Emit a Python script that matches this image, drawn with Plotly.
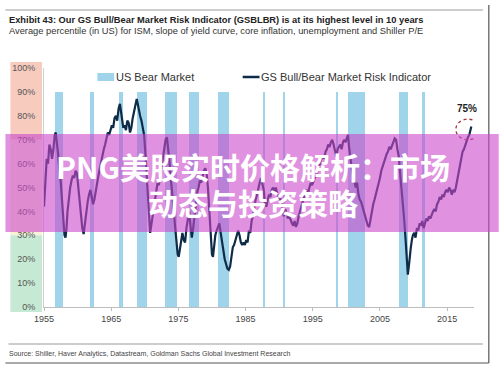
import plotly.graph_objects as go

# ---------------- data ----------------
bear_start = [1956.6, 1961.9, 1966.1, 1968.9, 1972.95, 1976.6, 1980.9, 1987.6, 1990.5, 1998.45, 2000.25, 2007.8, 2011.3]
bear_end   = [1957.8, 1962.45, 1966.75, 1970.4, 1974.75, 1978.1, 1982.6, 1987.95, 1990.85, 1998.75, 2002.75, 2009.15, 2011.7]
bear_height = 90

gs_years = [
    1955.0, 1955.2, 1955.4, 1955.6, 1955.8, 1956.0, 1956.2, 1956.4, 1956.6, 1956.75, 1956.9,
    1957.1, 1957.3, 1957.5, 1957.7, 1957.9, 1958.05, 1958.2, 1958.35, 1958.5, 1958.7, 1958.9,
    1959.1, 1959.3, 1959.5, 1959.7, 1959.9, 1960.1, 1960.3, 1960.5, 1960.7, 1960.9,
    1961.1, 1961.3, 1961.5, 1961.7, 1961.9, 1962.1, 1962.3, 1962.5, 1962.7, 1962.9,
    1963.1, 1963.3, 1963.5, 1963.7, 1963.9, 1964.1, 1964.3, 1964.5, 1964.7, 1964.9,
    1965.1, 1965.3, 1965.5, 1965.7, 1965.9, 1966.1, 1966.3, 1966.45, 1966.6, 1966.8,
    1967.0, 1967.2, 1967.4, 1967.6, 1967.8, 1968.0, 1968.2, 1968.4, 1968.6, 1968.8, 1968.95,
    1969.1, 1969.3, 1969.5, 1969.7, 1969.9, 1970.1, 1970.3, 1970.5, 1970.65, 1970.8, 1970.95,
    1971.1, 1971.3, 1971.5, 1971.7, 1971.9, 1972.1, 1972.3, 1972.5, 1972.7, 1972.9,
    1973.1, 1973.3, 1973.5, 1973.7, 1973.9, 1974.1, 1974.3, 1974.5, 1974.7, 1974.9, 1975.05,
    1975.2, 1975.4, 1975.6, 1975.8, 1976.0, 1976.2, 1976.4, 1976.6, 1976.8, 1977.0,
    1977.2, 1977.4, 1977.6, 1977.8, 1978.0, 1978.2, 1978.4, 1978.6, 1978.8, 1979.0,
    1979.2, 1979.4, 1979.6, 1979.8, 1980.0, 1980.15, 1980.3, 1980.5, 1980.7, 1980.9,
    1981.1, 1981.3, 1981.5, 1981.7, 1981.9, 1982.1, 1982.3, 1982.5, 1982.7, 1982.9,
    1983.1, 1983.3, 1983.5, 1983.7, 1983.9, 1984.1, 1984.3, 1984.5, 1984.7, 1984.9,
    1985.1, 1985.3, 1985.5, 1985.7, 1985.9, 1986.1, 1986.3, 1986.5, 1986.7, 1986.9,
    1987.1, 1987.3, 1987.5, 1987.7, 1987.9, 1988.1, 1988.3, 1988.5, 1988.7, 1988.9,
    1989.1, 1989.3, 1989.5, 1989.7, 1989.9, 1990.1, 1990.3, 1990.5, 1990.7, 1990.9,
    1991.1, 1991.3, 1991.5, 1991.7, 1991.9, 1992.1, 1992.3, 1992.5, 1992.7, 1992.9,
    1993.1, 1993.3, 1993.5, 1993.7, 1993.9, 1994.1, 1994.3, 1994.5, 1994.7, 1994.9,
    1995.1, 1995.3, 1995.5, 1995.7, 1995.9, 1996.1, 1996.3, 1996.5, 1996.7, 1996.9,
    1997.1, 1997.3, 1997.5, 1997.7, 1997.9, 1998.1, 1998.3, 1998.5, 1998.7, 1998.9,
    1999.1, 1999.3, 1999.5, 1999.7, 1999.9, 2000.1, 2000.25, 2000.4, 2000.6, 2000.8,
    2001.0, 2001.2, 2001.4, 2001.6, 2001.8, 2002.0, 2002.2, 2002.4, 2002.6, 2002.8,
    2003.0, 2003.2, 2003.4, 2003.6, 2003.8, 2004.0, 2004.2, 2004.4, 2004.6, 2004.8,
    2005.0, 2005.2, 2005.4, 2005.6, 2005.8, 2006.0, 2006.2, 2006.4, 2006.6, 2006.8,
    2007.0, 2007.2, 2007.4, 2007.6, 2007.8, 2008.0, 2008.2, 2008.4, 2008.6, 2008.8,
    2009.0, 2009.15, 2009.3, 2009.45, 2009.6, 2009.75, 2009.9, 2010.1, 2010.3, 2010.5,
    2010.7, 2010.9, 2011.1, 2011.3, 2011.5, 2011.7, 2011.9, 2012.1, 2012.3, 2012.5,
    2012.7, 2012.9, 2013.1, 2013.3, 2013.5, 2013.7, 2013.9, 2014.1, 2014.3, 2014.5,
    2014.7, 2014.9, 2015.1, 2015.3, 2015.5, 2015.7, 2015.9, 2016.1, 2016.3, 2016.5,
    2016.7, 2016.9, 2017.1, 2017.3, 2017.5, 2017.7, 2017.9, 2018.1, 2018.3, 2018.45, 2018.6,
]
gs_values = [
    42, 50, 62, 60, 68, 66, 62, 66, 72, 73, 70,
    64, 57, 52, 44, 36, 30, 29, 33, 40, 46, 50,
    53, 55, 54, 57, 56, 50, 44, 38, 33, 30.5,
    35, 41, 44, 47, 49, 46, 43, 45, 49, 53,
    55, 58, 61, 63, 66, 68, 71, 73, 72, 74,
    76, 75, 79, 80, 78, 83, 85, 82, 79, 75,
    76, 74, 78, 77, 73, 75, 79, 82, 84, 87, 85,
    82, 80, 78, 75, 72, 64, 56, 45, 38, 31, 34,
    38, 42, 45, 49, 52, 51, 55, 59, 63, 67,
    70, 71, 66, 60, 53, 48, 41, 34, 28, 22, 21,
    24, 29, 31, 28, 27, 33, 36, 40, 34, 29,
    33, 38, 44, 48, 50, 53, 52, 55, 57, 58,
    56, 50, 41, 30, 22, 21, 25, 30, 32, 34,
    35, 31, 27, 24, 20, 18, 16, 15.5, 17, 21,
    25, 26, 28, 31, 32, 30, 27, 26, 27, 26,
    28, 27, 32, 31, 36, 38, 42, 45, 47, 50,
    52, 54, 51, 49, 43, 42, 45, 47, 46, 49,
    50, 48, 50, 47, 45, 46, 44, 40, 38, 41,
    39, 37, 38, 36, 35, 34, 36, 33.5, 35, 38,
    40, 43, 45, 47, 48, 49, 47, 50, 52, 51,
    53, 54, 55, 57, 59, 60, 62, 63, 62, 65,
    66, 68, 67, 69, 70, 68, 65, 63, 66, 67,
    68, 66, 69, 70, 69, 71, 72, 67, 62, 58,
    55, 53, 50, 52, 47, 45, 44, 42, 40, 38,
    35, 34, 33.5, 37, 40, 43, 45, 47, 49, 51,
    54, 57, 59, 60, 62, 64, 65, 67, 66, 68,
    69, 70.5, 70, 66, 63, 56, 50, 45, 37, 29,
    19, 13.5, 17, 22, 25, 28, 30, 31, 29, 33,
    32, 35, 34, 36, 33, 35, 37, 36, 38, 37,
    39, 40, 41, 40, 43, 44, 46, 45, 47, 46,
    48, 49, 48, 50, 49, 47, 49, 48, 50, 53,
    56, 59, 62, 65, 66, 68, 70, 71, 72, 74, 75.5,
]

x_ticks = [1955, 1965, 1975, 1985, 1995, 2005, 2015]
x_tick_labels = ["1955", "1965", "1975", "1985", "1995", "2005", "2015"]
y_ticks = [0, 10, 20, 30, 40, 50, 60, 70, 80, 90, 100]
y_tick_labels = ["0%", "10%", "20%", "30%", "40%", "50%", "60%", "70%", "80%", "90%", "100%"]

title_text = "Exhibit 43: Our GS Bull/Bear Market Risk Indicator (GSBLBR) is at its highest level in 10 years"
subtitle_text = "Average percentile (in US) for ISM, slope of yield curve, core inflation, unemployment and Shiller P/E"
source_text = "Source: Shiller, Haver Analytics, Datastream, Goldman Sachs Global Investment Research"
legend_bear = "US Bear Market"
legend_gs = "GS Bull/Bear Market Risk Indicator"
last_label = "75%"
overlay_line1 = "PNG美股实时价格解析：市场"
overlay_line2 = "动态与投资策略"

# ---------------- layout geometry ----------------
W, H = 499, 367
L, R, T, B = 39, 25, 68, 60
PW, PH = W - L - R, H - T - B


def px(xp):
    return (xp - L) / PW


def py(yp):
    return (H - B - yp) / PH


ARIAL = "Liberation Sans, Arial, sans-serif"

fig = go.Figure()

bear_mid = [(s + e) / 2 for s, e in zip(bear_start, bear_end)]
bear_w = [e - s for s, e in zip(bear_start, bear_end)]
fig.add_trace(go.Bar(
    x=bear_mid, y=[bear_height] * len(bear_mid), width=bear_w,
    marker=dict(color="#9fd4ea", line=dict(width=0)),
    showlegend=False, hoverinfo="skip",
))
fig.add_trace(go.Scatter(
    x=gs_years, y=gs_values, mode="lines",
    line=dict(color="#0e2c48", width=2.2),
    showlegend=False, hoverinfo="skip",
))

shapes = []
# left colour strip
shapes.append(dict(type="rect", xref="paper", yref="paper", x0=px(5), x1=px(37), y0=0.70, y1=py(62),
                   fillcolor="#f8cbbf", line=dict(width=0), layer="below"))
shapes.append(dict(type="rect", xref="paper", yref="paper", x0=px(5), x1=px(37), y0=0.30, y1=0.70,
                   fillcolor="#fbf1d6", line=dict(width=0), layer="below"))
shapes.append(dict(type="rect", xref="paper", yref="paper", x0=px(5), x1=px(37), y0=py(312), y1=0.30,
                   fillcolor="#c6e9d3", line=dict(width=0), layer="below"))
# frame lines
shapes.append(dict(type="line", xref="paper", yref="paper", x0=px(0), x1=px(483), y0=py(10), y1=py(10),
                   line=dict(color="#9a9a9a", width=1)))
shapes.append(dict(type="line", xref="paper", yref="paper", x0=px(3), x1=px(483), y0=py(344), y1=py(344),
                   line=dict(color="#9a9a9a", width=1)))
shapes.append(dict(type="line", xref="paper", yref="paper", x0=px(489), x1=px(489), y0=py(5), y1=py(363),
                   line=dict(color="#555555", width=1.2)))
shapes.append(dict(type="line", xref="paper", yref="paper", x0=px(0), x1=px(489), y0=py(363), y1=py(363),
                   line=dict(color="#555555", width=1.2)))
# legend markers
shapes.append(dict(type="rect", xref="paper", yref="paper", x0=px(93), x1=px(110), y0=py(81), y1=py(73),
                   fillcolor="#9fd4ea", line=dict(width=0)))
shapes.append(dict(type="line", xref="paper", yref="paper", x0=px(240), x1=px(257), y0=py(77), y1=py(77),
                   line=dict(color="#0e2c48", width=2.5)))
# dotted circle around last value
shapes.append(dict(type="circle", xref="x", yref="y", x0=2016.3, x1=2019.9, y0=70.0, y1=78.6,
                   line=dict(color="#a8323e", width=1.3, dash="dot")))
# overlay band
shapes.append(dict(type="rect", xref="paper", yref="paper", x0=px(0), x1=px(499), y0=py(232), y1=py(134),
                   fillcolor="rgba(204,72,204,0.60)", line=dict(width=0), layer="above"))

annotations = [
    dict(text="<b>" + title_text + "</b>", xref="paper", yref="paper", x=px(2), y=py(20),
         xanchor="left", yanchor="middle", showarrow=False, font=dict(family=ARIAL, size=9.3, color="#222")),
    dict(text=subtitle_text, xref="paper", yref="paper", x=px(2), y=py(31),
         xanchor="left", yanchor="middle", showarrow=False, font=dict(family=ARIAL, size=9.3, color="#333")),
    dict(text=source_text, xref="paper", yref="paper", x=px(2), y=py(354),
         xanchor="left", yanchor="middle", showarrow=False, font=dict(family=ARIAL, size=7, color="#444")),
    dict(text=legend_bear, xref="paper", yref="paper", x=px(110), y=py(77),
         xanchor="left", yanchor="middle", showarrow=False, font=dict(family=ARIAL, size=11, color="#333")),
    dict(text=legend_gs, xref="paper", yref="paper", x=px(256), y=py(77),
         xanchor="left", yanchor="middle", showarrow=False, font=dict(family=ARIAL, size=11, color="#333")),
    dict(text="<b>" + last_label + "</b>", xref="paper", yref="paper", x=px(467), y=py(108),
         xanchor="center", yanchor="middle", showarrow=False, font=dict(family=ARIAL, size=10, color="#222")),
    dict(text="<b>" + overlay_line1 + "</b>", xref="paper", yref="paper", x=px(250), y=py(166),
         xanchor="center", yanchor="middle", showarrow=False,
         font=dict(family="Noto Sans CJK SC", size=30, color="#ffffff")),
    dict(text="<b>" + overlay_line2 + "</b>", xref="paper", yref="paper", x=px(250), y=py(202),
         xanchor="center", yanchor="middle", showarrow=False,
         font=dict(family="Noto Sans CJK SC", size=30, color="#ffffff")),
]

fig.update_layout(
    width=W, height=H, autosize=False,
    margin=dict(l=L, r=R, t=T, b=B, pad=0),
    paper_bgcolor="white", plot_bgcolor="white",
    bargap=0, showlegend=False, hovermode=False,
    shapes=shapes, annotations=annotations,
    xaxis=dict(range=[1955, 2019], tickvals=x_ticks, ticktext=x_tick_labels,
               showgrid=False, zeroline=False, showline=True, linecolor="#bdbdbd", linewidth=1,
               ticks="outside", ticklen=3, tickcolor="#bdbdbd",
               tickfont=dict(family=ARIAL, size=9, color="#444")),
    yaxis=dict(range=[0, 100], tickvals=y_ticks, ticktext=y_tick_labels,
               showgrid=False, zeroline=False, showline=True, linecolor="#d0d0d0", linewidth=1,
               ticks="", ticklabelstandoff=6,
               tickfont=dict(family=ARIAL, size=9, color="#555")),
)

fig.write_html(
    "out.html",
    config={"displayModeBar": False, "staticPlot": True},
    post_script="document.body.style.margin='0';document.body.style.padding='0';",
)
